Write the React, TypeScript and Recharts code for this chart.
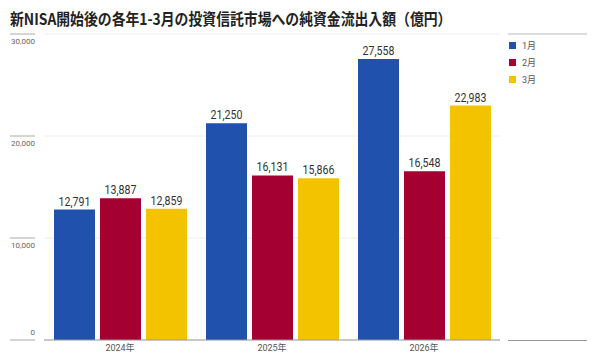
import React from 'react';
import { BarChart, Bar, XAxis, YAxis, CartesianGrid, LabelList } from 'recharts';

const categories = ['2024年', '2025年', '2026年'];
const jan = [12791, 21250, 27558];
const feb = [13887, 16131, 16548];
const mar = [12859, 15866, 22983];
const yTicks = [0, 10000, 20000, 30000];
const seriesNames = ['1月', '2月', '3月'];
const colors = ['#1f51ad', '#a50032', '#f4c300'];

const data = categories.map((c, i) => ({ name: c, jan: jan[i], feb: feb[i], mar: mar[i] }));

const fmt = (v: number) => v.toLocaleString('en-US');

const YTick = (props: any) => {
  const { y, payload } = props;
  const isZero = payload.value === 0;
  return (
    <g>
      <line x1={10} x2={35} y1={y} y2={y} stroke="#aaa" strokeWidth={1} />
      <text x={35} y={isZero ? y - 5 : y + 10} textAnchor="end" fontSize={8} fill="#666" fontFamily="Roboto, sans-serif">
        {fmt(payload.value)}
      </text>
    </g>
  );
};

const ValueLabel = (props: any) => {
  const { x, y, width, value } = props;
  return (
    <text
      transform={`translate(${x + width / 2},${y - 4}) scale(0.85,1)`}
      textAnchor="middle"
      fontSize={12.5}
      fill="#333"
      fontFamily="Roboto, sans-serif"
    >
      {fmt(value)}
    </text>
  );
};

export default function App() {
  return (
    <div style={{ position: 'absolute', left: 0, top: 0, width: 600, height: 359, background: '#fff' }}>
      <div
        style={{
          position: 'absolute',
          left: 10,
          top: 7,
          fontFamily: '"Noto Sans CJK JP", sans-serif',
          fontWeight: 700,
          fontSize: 16,
          color: '#222',
          whiteSpace: 'nowrap',
          lineHeight: '22px',
          transform: 'scaleX(0.865)',
          transformOrigin: 'left center',
        }}
      >
        新NISA開始後の各年1-3月の投資信託市場への純資金流出入額（億円）
      </div>
      <div style={{ position: 'absolute', left: 508, top: 33, width: 79, height: 0, borderTop: '2px solid #ddd' }} />
      <div style={{ position: 'absolute', left: 508, top: 340, width: 79, height: 0, borderTop: '1px solid #999' }} />
      <div
        style={{
          position: 'absolute',
          left: 509,
          top: 37,
          fontFamily: 'Roboto, "Noto Sans CJK JP", sans-serif',
          fontSize: 9,
          color: '#555',
        }}
      >
        {seriesNames.map((n, i) => (
          <div key={n} style={{ display: 'flex', alignItems: 'center', height: 17 }}>
            <span style={{ display: 'inline-block', width: 7, height: 7, background: colors[i], marginRight: 6 }} />
            <span>{n}</span>
          </div>
        ))}
      </div>
      <BarChart
        width={600}
        height={359}
        data={data}
        margin={{ top: 34, right: 100, bottom: 0, left: 0 }}
        barCategoryGap={10}
        barGap={5}
        style={{ position: 'absolute', left: 0, top: 0 }}
      >
        <CartesianGrid vertical={false} stroke="#eee" />
        <XAxis
          dataKey="name"
          height={19}
          tickLine={false}
          axisLine={{ stroke: '#999' }}
          tickSize={3}
          tick={{ fontSize: 9, fill: '#555', fontFamily: 'Roboto, "Noto Sans CJK JP", sans-serif' }}
        />
        <YAxis
          width={44}
          domain={[0, 30000]}
          ticks={yTicks}
          axisLine={false}
          tickLine={false}
          tick={<YTick />}
        />
        <Bar dataKey="jan" name={seriesNames[0]} fill={colors[0]} isAnimationActive={false}>
          <LabelList dataKey="jan" content={<ValueLabel />} />
        </Bar>
        <Bar dataKey="feb" name={seriesNames[1]} fill={colors[1]} isAnimationActive={false}>
          <LabelList dataKey="feb" content={<ValueLabel />} />
        </Bar>
        <Bar dataKey="mar" name={seriesNames[2]} fill={colors[2]} isAnimationActive={false}>
          <LabelList dataKey="mar" content={<ValueLabel />} />
        </Bar>
      </BarChart>
    </div>
  );
}
